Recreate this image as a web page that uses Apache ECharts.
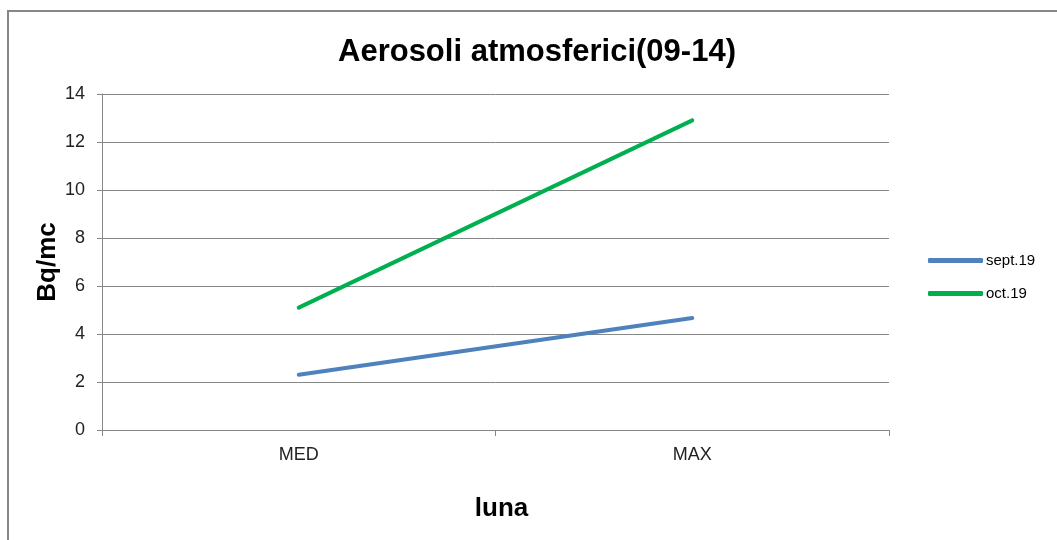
<!DOCTYPE html>
<html>
<head>
<meta charset="utf-8">
<script src="https://cdn.jsdelivr.net/npm/echarts@6/dist/echarts.min.js"></script>
<style>
html,body{margin:0;padding:0;background:#fff;}
#c{width:1057px;height:540px;}
</style>
</head>
<body>
<div id="c"></div>
<script>
var titleText = 'Aerosoli atmosferici(09-14)';
var categories = ['MED', 'MAX'];
var seriesNames = ['sept.19', 'oct.19'];
var septValues = [2.3, 4.67];
var octValues = [5.1, 12.9];
var yTicks = [0, 2, 4, 6, 8, 10, 12, 14];
var yAxisName = 'Bq/mc';
var xAxisName = 'luna';

var chart = echarts.init(document.getElementById('c'), null, {renderer: 'canvas'});
var FONT = '"Liberation Sans", Arial, sans-serif';
chart.setOption({
  animation: false,
  backgroundColor: '#ffffff',
  graphic: [{
    type: 'rect',
    shape: {x: 8, y: 11, width: 1200, height: 700},
    style: {fill: 'none', stroke: '#878787', lineWidth: 2},
    silent: true
  }],
  title: {
    text: titleText,
    left: 338,
    top: 37,
    padding: 0,
    textStyle: {fontFamily: FONT, fontSize: 31, fontWeight: 'bold', color: '#000'}
  },
  grid: {left: 102, right: 168, top: 94, bottom: 110, containLabel: false},
  legend: {
    orient: 'vertical',
    left: 928,
    top: 253,
    padding: 0,
    itemWidth: 55,
    itemHeight: 5,
    itemGap: 18,
    icon: 'roundRect',
    textStyle: {fontFamily: FONT, fontSize: 15, color: '#000', padding: [0, 0, 0, -2]},
    data: seriesNames
  },
  xAxis: {
    type: 'category',
    data: categories,
    boundaryGap: true,
    name: xAxisName,
    nameLocation: 'middle',
    nameGap: 66,
    nameMoveOverlap: false,
    nameTextStyle: {fontFamily: FONT, fontSize: 26, fontWeight: 'bold', color: '#000', padding: [0, 0, 0, 12]},
    axisLine: {show: true, lineStyle: {color: '#878787', width: 1}},
    axisTick: {show: true, length: 6, lineStyle: {color: '#878787'}},
    axisLabel: {fontFamily: FONT, fontSize: 18, color: '#222', margin: 16},
    splitLine: {show: false}
  },
  yAxis: {
    type: 'value',
    min: 0,
    max: 14,
    interval: 2,
    name: yAxisName,
    nameLocation: 'middle',
    nameGap: 41,
    nameMoveOverlap: false,
    nameRotate: 90,
    nameTextStyle: {fontFamily: FONT, fontSize: 26, fontWeight: 'bold', color: '#000'},
    axisLine: {show: true, lineStyle: {color: '#878787', width: 1}},
    axisTick: {show: true, length: 5, lineStyle: {color: '#878787'}},
    axisLabel: {fontFamily: FONT, fontSize: 18, color: '#222', margin: 17,
      formatter: function (v) { return yTicks.indexOf(v) >= 0 ? String(v) : ''; }},
    splitLine: {show: true, lineStyle: {color: '#878787', width: 1}}
  },
  series: [
    {
      name: seriesNames[0], type: 'line', data: septValues,
      showSymbol: false, symbol: 'none',
      lineStyle: {color: '#4F81BD', width: 4, cap: 'round'},
      itemStyle: {color: '#4F81BD'}
    },
    {
      name: seriesNames[1], type: 'line', data: octValues,
      showSymbol: false, symbol: 'none',
      lineStyle: {color: '#00B050', width: 4, cap: 'round'},
      itemStyle: {color: '#00B050'}
    }
  ]
});
</script>
</body>
</html>
